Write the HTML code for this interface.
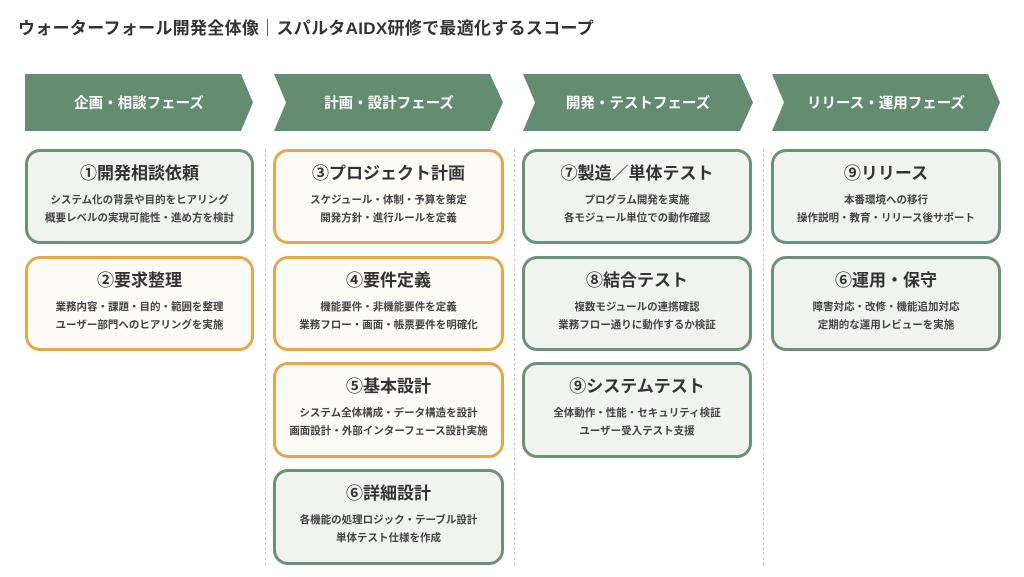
<!DOCTYPE html>
<html><head><meta charset="utf-8"><style>
body{margin:0;width:1024px;height:577px;background:#fff;position:relative;overflow:hidden;font-family:"Liberation Sans","Noto Sans CJK JP",sans-serif;color:#333}
.t{position:absolute;left:18px;top:14px;font-size:17px;font-weight:bold;color:#333;white-space:nowrap;letter-spacing:0.3px}
.b{position:absolute;box-sizing:border-box;border:3px solid #6a9277;background:#f1f3f1;border-radius:15px;text-align:center}
.o{border-color:#e6a64a;background:#fdfbf6}
.b h3{margin:10px 0 0;font-size:17px;font-weight:bold;line-height:24px;color:#333}
.b p{margin:5px 0 0;font-size:10.5px;font-weight:bold;line-height:18px;color:#444;white-space:nowrap}
.sep{position:absolute;top:149px;height:416px;border-left:1px dashed #ccc}
</style></head><body>
<div class="t">ウォーターフォール開発全体像｜スパルタAIDX研修で最適化するスコープ</div>
<svg width="1024" height="140" style="position:absolute;left:0;top:0">
<g fill="#648c70">
<polygon points="25,74 241,74 253,102.5 241,131 25,131"/>
<polygon points="274,74 490,74 503,102.5 490,131 274,131 286,102.5"/>
<polygon points="523,74 740,74 753,102.5 740,131 523,131 535,102.5"/>
<polygon points="772,74 988,74 1000,102.5 988,131 772,131 784,102.5"/>
</g>
<g fill="#fff" font-size="14.5" font-weight="bold" text-anchor="middle" font-family="Liberation Sans,Noto Sans CJK JP,sans-serif">
<text x="139" y="108">企画・相談フェーズ</text>
<text x="389" y="108">計画・設計フェーズ</text>
<text x="638" y="108">開発・テストフェーズ</text>
<text x="886" y="108">リリース・運用フェーズ</text>
</g></svg>
<div class="sep" style="left:265px"></div>
<div class="sep" style="left:514px"></div>
<div class="sep" style="left:763px"></div>

<div class="b" style="left:25px;top:149px;width:229px;height:95px"><h3>①開発相談依頼</h3><p>システム化の背景や目的をヒアリング<br>概要レベルの実現可能性・進め方を検討</p></div>
<div class="b o" style="left:25px;top:256px;width:229px;height:95px"><h3>②要求整理</h3><p>業務内容・課題・目的・範囲を整理<br>ユーザー部門へのヒアリングを実施</p></div>

<div class="b o" style="left:273px;top:149px;width:231px;height:95px"><h3>③プロジェクト計画</h3><p>スケジュール・体制・予算を策定<br>開発方針・進行ルールを定義</p></div>
<div class="b o" style="left:273px;top:256px;width:231px;height:95px"><h3>④要件定義</h3><p>機能要件・非機能要件を定義<br>業務フロー・画面・帳票要件を明確化</p></div>
<div class="b o" style="left:273px;top:362px;width:231px;height:96px"><h3>⑤基本設計</h3><p>システム全体構成・データ構造を設計<br>画面設計・外部インターフェース設計実施</p></div>
<div class="b" style="left:273px;top:469px;width:231px;height:96px"><h3>⑥詳細設計</h3><p>各機能の処理ロジック・テーブル設計<br>単体テスト仕様を作成</p></div>

<div class="b" style="left:522px;top:149px;width:230px;height:95px"><h3>⑦製造／単体テスト</h3><p>プログラム開発を実施<br>各モジュール単位での動作確認</p></div>
<div class="b" style="left:522px;top:256px;width:230px;height:95px"><h3>⑧結合テスト</h3><p>複数モジュールの連携確認<br>業務フロー通りに動作するか検証</p></div>
<div class="b" style="left:522px;top:362px;width:230px;height:96px"><h3>⑨システムテスト</h3><p>全体動作・性能・セキュリティ検証<br>ユーザー受入テスト支援</p></div>

<div class="b" style="left:771px;top:149px;width:230px;height:95px"><h3>⑨リリース</h3><p>本番環境への移行<br>操作説明・教育・リリース後サポート</p></div>
<div class="b" style="left:771px;top:256px;width:230px;height:95px"><h3>⑥運用・保守</h3><p>障害対応・改修・機能追加対応<br>定期的な運用レビューを実施</p></div>
</body></html>
